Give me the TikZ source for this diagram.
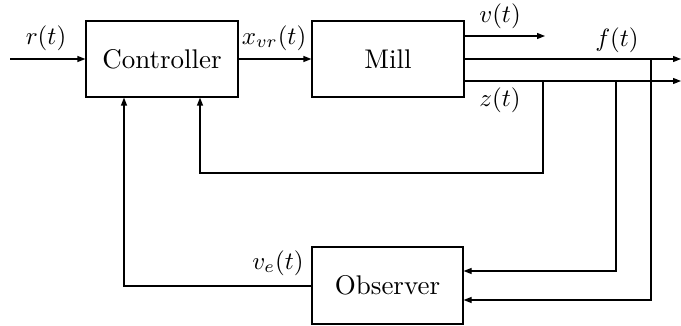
\documentclass[tikz,border=0pt]{standalone}
\usetikzlibrary{arrows.meta}
\newcommand{\sclt}[1]{\scalebox{2.7}{#1}}
\newcommand{\sclm}[1]{\scalebox{2.5}{#1}}
\begin{document}
\begin{tikzpicture}[x=1pt,y=1pt,
  blk/.style={draw,line width=1.2pt,inner sep=0pt},
  lbl/.style={inner sep=0pt},
  sig/.style={line width=1.2pt,-{Triangle[length=8pt,width=6pt]}}]
\useasboundingbox (0,0) rectangle (681,-326);
\node[blk,minimum width=152pt,minimum height=76pt] (ctrl) at (162,-59) {\sclt{Controller}};
\node[blk,minimum width=152pt,minimum height=76pt] (mill) at (388,-59) {\sclt{Mill}};
\node[blk,minimum width=151pt,minimum height=77pt] (obs) at (387.5,-285.5) {\sclt{Observer}};
\coordinate (in) at (10,-59);
\coordinate (vend) at (545,-36);
\coordinate (fend) at (681,-59);
\coordinate (zend) at (681,-81);
\coordinate (zj) at (543,-81);
\coordinate (zc) at (543,-173);
\coordinate (zl) at (200,-173);
\coordinate (oj1) at (616,-81);
\coordinate (oc1) at (616,-271);
\coordinate (oj2) at (651,-59);
\coordinate (oc2) at (651,-300);
\coordinate (ol) at (124,-286);
\draw[sig] (in) -- (ctrl.west);
\draw[sig] (ctrl.east) -- (mill.west);
\draw[sig] (mill.east |- vend) -- (vend);
\draw[sig] (mill.east |- fend) -- (fend);
\draw[sig] (mill.east |- zend) -- (zend);
\draw[sig] (zj) -- (zc) -- (zl) -- (zl |- ctrl.south);
\draw[sig] (oj1) -- (oc1) -- (obs.east |- oc1);
\draw[sig] (oj2) -- (oc2) -- (obs.east |- oc2);
\draw[sig] (obs.west |- ol) -- (ol) -- (ol |- ctrl.south);
\node[lbl] (rl) at (46,-38) {\sclm{$r(t)$}};
\node[lbl] (xl) at (274,-38) {\sclm{$x_{vr}(t)$}};
\node[lbl] (vl) at (500,-16) {\sclm{$v(t)$}};
\node[lbl] (fl) at (617,-40) {\sclm{$f(t)$}};
\node[lbl] (zl2) at (500,-100) {\sclm{$z(t)$}};
\node[lbl] (vel) at (278,-263) {\sclm{$v_e(t)$}};
\end{tikzpicture}
\end{document}
